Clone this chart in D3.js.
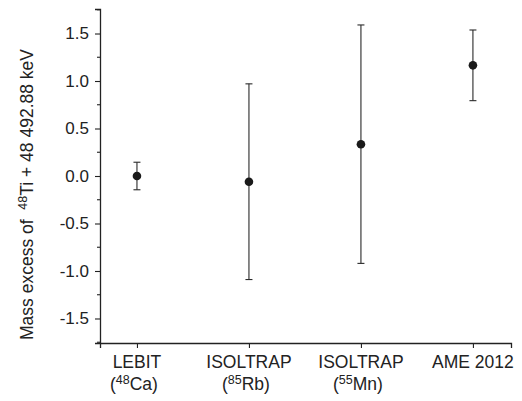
<!DOCTYPE html>
<html>
<head>
<meta charset="utf-8">
<script src="https://cdn.jsdelivr.net/npm/d3@7"></script>
<style>
  body { margin: 0; background: #fff; }
  text { font-family: "Liberation Sans", Arial, sans-serif; fill: #222; }
</style>
</head>
<body>
<script>
// measurement sources, two label lines each (second line: isotope reference)
var labels = ["LEBIT", "ISOLTRAP", "ISOLTRAP", "AME 2012"];
var refMass = ["48", "85", "55", ""];
var refElem = ["Ca", "Rb", "Mn", ""];
// mass excess offset (keV) and 1-sigma uncertainty
var values = [0.0, -0.06, 0.335, 1.165];
var errors = [0.145, 1.03, 1.255, 0.372];
var yTicks = [-1.5, -1.0, -0.5, 0.0, 0.5, 1.0, 1.5];

var width = 522, height = 401;
var plotLeft = 100, plotRight = 511, plotTop = 9, plotBottom = 343;

var svg = d3.select("body").append("svg")
    .attr("width", width)
    .attr("height", height);

var xScale = d3.scaleLinear()
    .domain([0.67, 4.34])
    .range([plotLeft, plotRight]);

var yScale = d3.scaleLinear()
    .domain([-1.758, 1.758])
    .range([plotBottom, plotTop]);

//y axis with major ticks (plain hyphen as minus, like the original)
var yAxis = d3.axisLeft(yScale)
    .tickValues(yTicks)
    .tickFormat(function(d){ return d.toFixed(1); })
    .tickSize(5)
    .tickPadding(6);

var gy = svg.append("g")
    .attr("transform", "translate(" + plotLeft + ",0)")
    .call(yAxis);

gy.select(".domain").attr("stroke", "#222").attr("stroke-width", 1.3);
gy.selectAll(".tick line").attr("stroke", "#222").attr("stroke-width", 1.1);
gy.selectAll(".tick text")
    .style("font-size", "17px")
    .attr("fill", "#222");

//minor ticks
var minor = d3.range(-1.75, 1.76, 0.5);
svg.append("g").selectAll("line")
    .data(minor)
    .enter()
    .append("line")
    .attr("x1", plotLeft - 3)
    .attr("x2", plotLeft)
    .attr("y1", function(d){ return yScale(d); })
    .attr("y2", function(d){ return yScale(d); })
    .attr("stroke", "#222")
    .attr("stroke-width", 1.1);

//x axis
var xAxis = d3.axisBottom(xScale)
    .tickValues([1, 2, 3, 4])
    .tickFormat("")
    .tickSize(5);

var gx = svg.append("g")
    .attr("transform", "translate(0," + plotBottom + ")")
    .call(xAxis);

gx.select(".domain").attr("stroke", "#222").attr("stroke-width", 1.3);
gx.selectAll(".tick line").attr("stroke", "#222").attr("stroke-width", 1.1);

//category labels
var cats = svg.append("g").selectAll("g")
    .data(labels)
    .enter()
    .append("g");

cats.append("text")
    .attr("x", function(d, i){ return xScale(i + 1); })
    .attr("y", 368)
    .attr("text-anchor", "middle")
    .style("font-size", "17.5px")
    .text(function(d){ return d; });

cats.each(function(d, i){
    if (refMass[i] == "") return;
    var t = d3.select(this).append("text")
        .attr("x", xScale(i + 1) - 3)
        .attr("y", 390)
        .attr("text-anchor", "middle")
        .style("font-size", "17.5px");
    t.append("tspan").text("(");
    t.append("tspan").attr("dy", -6.5).style("font-size", "12.5px").text(refMass[i]);
    t.append("tspan").attr("dy", 6.5).text(refElem[i] + ")");
});

//error bars
var cap = 3.5;
var bars = svg.append("g").selectAll("g")
    .data(values)
    .enter()
    .append("g")
    .attr("stroke", "#2a2a2a")
    .attr("stroke-width", 1.1);

bars.append("line")
    .attr("x1", function(d, i){ return xScale(i + 1); })
    .attr("x2", function(d, i){ return xScale(i + 1); })
    .attr("y1", function(d, i){ return yScale(d + errors[i]); })
    .attr("y2", function(d, i){ return yScale(d - errors[i]); });

bars.append("line")
    .attr("x1", function(d, i){ return xScale(i + 1) - cap; })
    .attr("x2", function(d, i){ return xScale(i + 1) + cap; })
    .attr("y1", function(d, i){ return yScale(d + errors[i]); })
    .attr("y2", function(d, i){ return yScale(d + errors[i]); });

bars.append("line")
    .attr("x1", function(d, i){ return xScale(i + 1) - cap; })
    .attr("x2", function(d, i){ return xScale(i + 1) + cap; })
    .attr("y1", function(d, i){ return yScale(d - errors[i]); })
    .attr("y2", function(d, i){ return yScale(d - errors[i]); });

//points
svg.append("g").selectAll("circle")
    .data(values)
    .enter()
    .append("circle")
    .attr("cx", function(d, i){ return xScale(i + 1); })
    .attr("cy", function(d){ return yScale(d); })
    .attr("r", 4.3)
    .attr("fill", "#1a1a1a");

//y axis title, starting at the bottom
var title = svg.append("text")
    .attr("transform", "translate(33,340) rotate(-90)")
    .attr("text-anchor", "start")
    .style("font-size", "17.5px")
    .style("white-space", "pre");

title.append("tspan").text("Mass excess of  ");
title.append("tspan").attr("dy", -6.5).style("font-size", "12.5px").text("48");
title.append("tspan").attr("dy", 6.5).text("Ti + 48 492.88 keV");
</script>
</body>
</html>
